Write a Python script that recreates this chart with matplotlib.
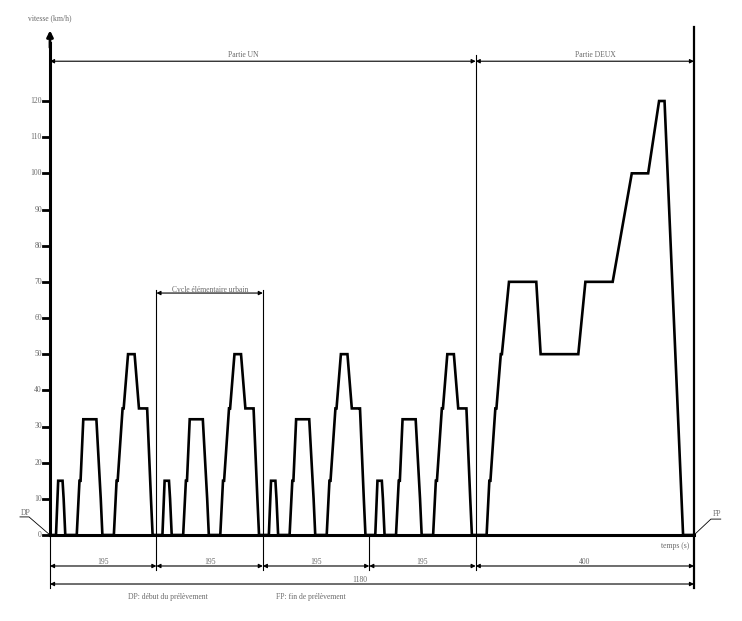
import numpy as np
import matplotlib.pyplot as plt

# cycle ECE 15 (urbain), 195 s
ece_t = [0, 11, 15, 23, 25, 28, 49, 54, 56, 61, 85, 93, 96, 117, 122, 124, 133,
         135, 143, 155, 163, 176, 178, 185, 188, 195]
ece_v = [0, 0, 15, 15, 10, 0, 0, 15, 15, 32, 32, 10, 0, 0, 15, 15, 35,
         35, 50, 50, 35, 35, 35, 10, 0, 0]

# cycle extra-urbain (EUDC), 400 s
eudc_t = [0, 20, 25, 27, 36, 38, 46, 48, 61, 111, 119, 188, 201, 251, 286, 316,
          336, 346, 380, 400]
eudc_v = [0, 0, 15, 15, 35, 35, 50, 50, 70, 70, 50, 50, 70, 70, 100, 100,
          120, 120, 0, 0]

n_ece = 4
ece_len = 195
eudc_len = 400
total = n_ece * ece_len + eudc_len
yticks = list(range(0, 130, 10))

# assemble the whole profile
t_all = []
v_all = []
for i in range(n_ece):
    t_all += [x + i * ece_len for x in ece_t]
    v_all += ece_v
t_all += [x + n_ece * ece_len for x in eudc_t]
v_all += eudc_v

fig = plt.figure(figsize=(7.42, 6.21), dpi=100)
ax = fig.add_axes([0, 0, 1, 1])
kx = 644 / 1180.0   # px per s
ky = 434 / 120.0    # px per km/h
ax.set_xlim(-50 / kx, (742 - 50) / kx)
ax.set_ylim((535 - 621) / ky, 535 / ky)
ax.axis('off')

grey = '#6a6a6a'
fnt = dict(family='Liberation Serif', color=grey, fontsize=5.5)

# speed curve
ax.plot(t_all, v_all, color='black', lw=1.9, solid_joinstyle='miter')

# axes
ax.plot([0, total], [0, 0], color='black', lw=2.2)
ax.plot([0, 0], [0, 136], color='black', lw=2.2)
ax.annotate('', xy=(0, 140.3), xytext=(0, 134),
            arrowprops=dict(arrowstyle='-|>', color='black', lw=2, mutation_scale=9))
ax.text(0, 142.8, 'vitesse (km/h)', ha='center', va='center', **fnt)
ax.plot([total, total], [-14.6, 140.4], color='black', lw=1.6)

for v in yticks:
    ax.plot([-12.8, 0], [v, v], color='black', lw=2.0)
    ax.text(-14.7, v, str(v), ha='right', va='center', **fnt)

# vertical separators
ends = [i * ece_len for i in range(1, n_ece + 1)]
for e in ends:
    ax.plot([e, e], [-9.7, 0], color='black', lw=0.8)
ax.plot([ece_len, ece_len], [0, 67.7], color='black', lw=0.8)
ax.plot([2 * ece_len, 2 * ece_len], [0, 67.7], color='black', lw=0.8)
ax.plot([n_ece * ece_len, n_ece * ece_len], [0, 132.7], color='black', lw=0.8)
ax.plot([0, 0], [-14.6, 0], color='black', lw=0.8)


def dim(x0, x1, y, label=None, tx=None, ty=None):
    ax.annotate('', xy=(x0, y), xytext=(x1, y),
                arrowprops=dict(arrowstyle='<|-|>', color='black', lw=0.8,
                                mutation_scale=6, shrinkA=0, shrinkB=0))
    if label:
        ax.text((x0 + x1) / 2 if tx is None else tx, y + 1.3 if ty is None else ty,
                label, ha='center', va='center', **fnt)


dim(0, n_ece * ece_len, 131.0, 'Partie UN', tx=353.6, ty=132.7)
dim(n_ece * ece_len, total, 131.0, 'Partie DEUX', tx=998.5, ty=132.7)
dim(ece_len, 2 * ece_len, 66.9, 'Cycle élémentaire urbain', tx=293, ty=67.8)
for i in range(n_ece):
    dim(i * ece_len, (i + 1) * ece_len, -8.57, str(ece_len), ty=-7.6)
dim(n_ece * ece_len, total, -8.57, str(eudc_len), ty=-7.6)
dim(0, total, -13.55, str(total), tx=568, ty=-12.4)

# DP / FP markers
ax.plot([0, -38.5, -55], [0, 5.0, 5.0], color='black', lw=0.6)
ax.text(-45, 6.0, 'DP', ha='center', va='center', **fnt)
ax.plot([total, 1211, 1229], [0, 4.4, 4.4], color='black', lw=0.6)
ax.text(1222, 5.9, 'FP', ha='center', va='center', **fnt)
ax.text(1172, -3.0, 'temps (s)', ha='right', va='center', **fnt)

ax.text(216, -17.1, 'DP: début du prélèvement', ha='center', va='center', **fnt)
ax.text(478, -17.1, 'FP: fin de prélèvement', ha='center', va='center', **fnt)

fig.savefig('out.png', dpi=100)
